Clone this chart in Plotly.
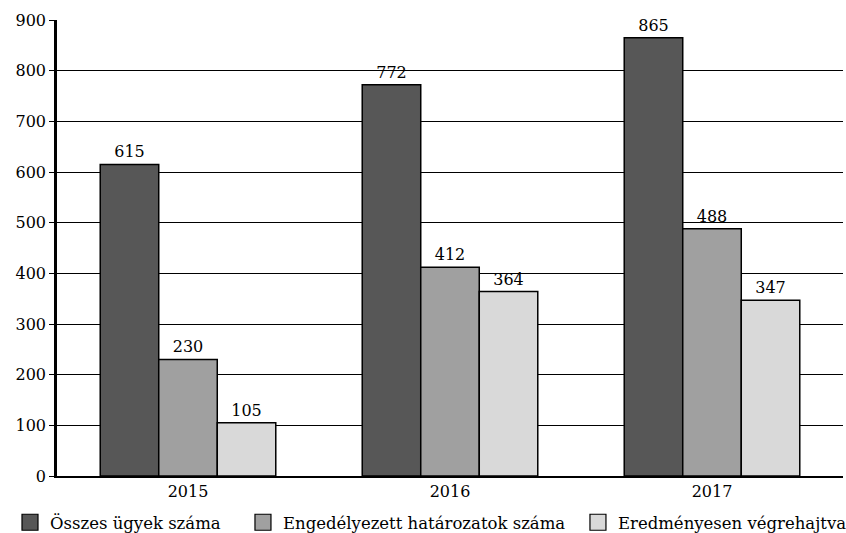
import plotly.graph_objects as go

years = ["2015", "2016", "2017"]
series_names = ["Összes ügyek száma", "Engedélyezett határozatok száma", "Eredményesen végrehajtva"]
osszes = [615, 772, 865]
engedelyezett = [230, 412, 488]
eredmenyes = [105, 364, 347]
colors = ["#575757", "#a0a0a0", "#d9d9d9"]
yticks = [0, 100, 200, 300, 400, 500, 600, 700, 800, 900]

font = dict(family="DejaVu Serif", size=16, color="black")
legfont = dict(family="DejaVu Serif", size=16.5, color="black")
legend_ids = ["legend", "legend2", "legend3"]
legend_x = [-0.0598, 0.2366, 0.6628]

fig = go.Figure()
for name, vals, col, lid in zip(series_names, [osszes, engedelyezett, eredmenyes], colors, legend_ids):
    fig.add_trace(go.Bar(
        x=years, y=vals, name=name, showlegend=False,
        marker=dict(color=col, line=dict(color="black", width=1.5)),
        text=[str(v) for v in vals], textposition="outside",
        textfont=font, cliponaxis=False,
    ))
    fig.add_trace(go.Scatter(
        x=[None], y=[None], name=name, mode="markers", legend=lid,
        marker=dict(symbol="square", size=18, color=col, line=dict(color="black", width=1.2)),
    ))

leg_common = dict(orientation="h", y=-0.0636, xanchor="left", yanchor="top",
                  font=legfont, itemwidth=30, bgcolor="rgba(0,0,0,0)")

fig.update_layout(
    width=846, height=533,
    margin=dict(l=57, r=3, t=20, b=57, autoexpand=False),
    plot_bgcolor="white", paper_bgcolor="white",
    font=font,
    barmode="group", bargap=0.33, bargroupgap=0,
    showlegend=True,
    legend=dict(x=legend_x[0], **leg_common),
    legend2=dict(x=legend_x[1], **leg_common),
    legend3=dict(x=legend_x[2], **leg_common),
    xaxis=dict(showline=True, linecolor="black", linewidth=2, ticks="",
               tickfont=font, showgrid=False),
    yaxis=dict(range=[0, 900], tickvals=yticks, showline=True, linecolor="black", linewidth=2.5,
               ticks="outside", ticklen=5, tickcolor="black", tickwidth=1,
               showgrid=True, gridcolor="black", gridwidth=1, zeroline=False, tickfont=font),
)

fig.write_html("out.html", config={"displayModeBar": False},
               post_script="document.body.style.margin='0px';")
